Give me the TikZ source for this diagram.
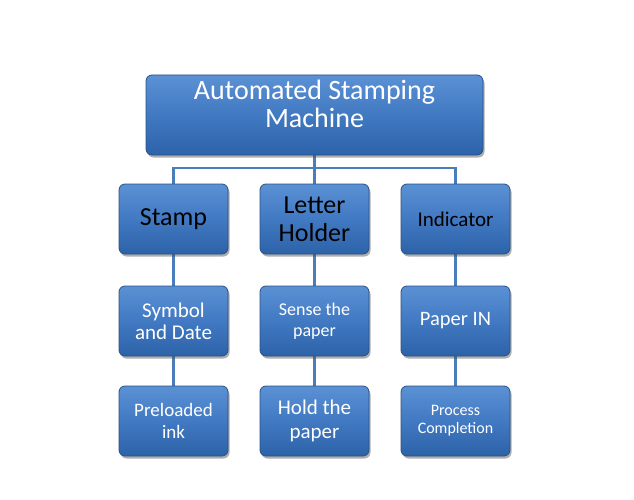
\documentclass[tikz,border=0pt]{standalone}
\usepackage{fontspec}
\setmainfont{Carlito}
\usetikzlibrary{shadows,backgrounds}
\definecolor{boxtop}{HTML}{5B91D4}
\definecolor{boxmid}{HTML}{4179C2}
\definecolor{boxbot}{HTML}{2C62A8}
\definecolor{boxedge}{HTML}{2A5186}
\definecolor{linkc}{HTML}{4A7EBB}
\tikzset{
  boxbase/.style={draw=boxedge, line width=0.8pt, rounded corners=6pt,
    top color=boxtop, bottom color=boxbot, middle color=boxmid,
    drop shadow={shadow xshift=1.5pt, shadow yshift=-2.5pt, opacity=0.45, fill=black!70},
    text=white},
  smallbox/.style={boxbase, align=flush center, inner sep=2pt,
    minimum width=109pt, minimum height=70pt, text width=104pt},
  link/.style={draw=linkc, line width=2.8pt},
}
\begin{document}
\begin{tikzpicture}[x=1pt,y=-1pt]
\useasboundingbox (0,0) rectangle (634,500);
\node[boxbase, inner sep=0pt, minimum width=337pt, minimum height=80pt,
    text height=35pt, text depth=37pt, font=\fontsize{28}{28}\selectfont] (top) at (314.5,115)
  {\begin{tabular}{@{}c@{}}Automated Stamping\\Machine\end{tabular}};

\node[smallbox, text=black, font=\fontsize{26}{28}\selectfont] (stamp) at (173.5,219) {Stamp};
\node[smallbox, text=black, font=\fontsize{26}{28}\selectfont] (letter) at (314.5,219) {Letter\\Holder};
\node[smallbox, text=black, font=\fontsize{21}{22}\selectfont] (ind) at (455.5,219) {Indicator};

\node[smallbox, font=\fontsize{21}{22}\selectfont] (sym) at (173.5,321) {Symbol\\and Date};
\node[smallbox, font=\fontsize{18}{21}\selectfont] (sense) at (314.5,321) {Sense the\\paper};
\node[smallbox, font=\fontsize{20.5}{22}\selectfont] (pin) at (455.5,321) {Paper IN};

\node[smallbox, font=\fontsize{19}{22}\selectfont] (ink) at (173.5,421) {Preloaded\\ink};
\node[smallbox, font=\fontsize{21}{24}\selectfont] (hold) at (314.5,421) {Hold the\\paper};
\node[smallbox, font=\fontsize{16}{18}\selectfont] (proc) at (455.5,421) {Process\\Completion};

\coordinate (j) at (314.5,168);
\begin{scope}[on background layer]
\draw[link] (top.south) -- (letter.north);
\draw[link] (stamp.north) |- (j) -| (ind.north);
\draw[link] (stamp.south) -- (sym.north);
\draw[link] (sym.south) -- (ink.north);
\draw[link] (letter.south) -- (sense.north);
\draw[link] (sense.south) -- (hold.north);
\draw[link] (ind.south) -- (pin.north);
\draw[link] (pin.south) -- (proc.north);
\end{scope}
\end{tikzpicture}
\end{document}
